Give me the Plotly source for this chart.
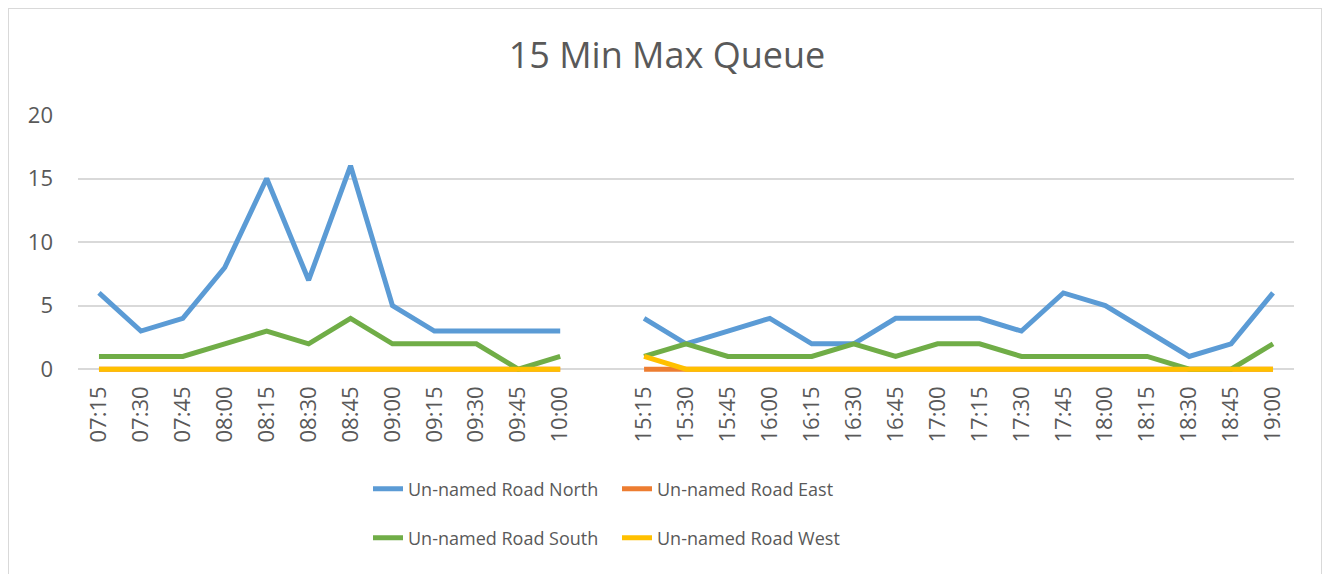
import plotly.graph_objects as go

times = ["07:15", "07:30", "07:45", "08:00", "08:15", "08:30", "08:45", "09:00",
         "09:15", "09:30", "09:45", "10:00", " ",
         "15:15", "15:30", "15:45", "16:00", "16:15", "16:30", "16:45", "17:00",
         "17:15", "17:30", "17:45", "18:00", "18:15", "18:30", "18:45", "19:00"]

north = [6, 3, 4, 8, 15, 7, 16, 5, 3, 3, 3, 3, None,
         4, 2, 3, 4, 2, 2, 4, 4, 4, 3, 6, 5, 3, 1, 2, 6]
east = [0, 0, 0, 0, 0, 0, 0, 0, 0, 0, 0, 0, None,
        0, 0, 0, 0, 0, 0, 0, 0, 0, 0, 0, 0, 0, 0, 0, 0]
south = [1, 1, 1, 2, 3, 2, 4, 2, 2, 2, 0, 1, None,
         1, 2, 1, 1, 1, 2, 1, 2, 2, 1, 1, 1, 1, 0, 0, 2]
west = [0, 0, 0, 0, 0, 0, 0, 0, 0, 0, 0, 0, None,
        1, 0, 0, 0, 0, 0, 0, 0, 0, 0, 0, 0, 0, 0, 0, 0]

series = [
    ("Un-named Road North", north, "#5B9BD5", "legend"),
    ("Un-named Road East", east, "#ED7D31", "legend"),
    ("Un-named Road South", south, "#70AD47", "legend2"),
    ("Un-named Road West", west, "#FFC000", "legend2"),
]

TXT = "#595959"
FONT = "Open Sans"
OFF = 8  # page body margin
W, H = 1330 - OFF, 574 - OFF
Y_MIN = -0.3  # small headroom so the zero lines are not clipped
PX_PER_UNIT = 254 / 20
ML, MR, MT = 78 - OFF, 36, 115 - OFF
PH = 254 + (-Y_MIN) * PX_PER_UNIT
MB = H - MT - PH

fig = go.Figure()
for name, vals, color, lg in series:
    fig.add_trace(go.Scatter(
        x=times, y=vals, name=name, mode="lines",
        line=dict(color=color, width=5),
        connectgaps=False, legend=lg,
    ))

pw = W - ML - MR
fig.add_shape(type="rect", xref="paper", yref="paper",
              x0=(7 - OFF + 1 - ML) / pw, x1=(1322 - OFF - ML) / pw,
              y0=-(H + 20 - MT - PH) / PH, y1=1 + MT / PH,
              line=dict(color="#D9D9D9", width=2), layer="below")

leg_common = dict(orientation="h", xref="container", yref="container",
                  xanchor="left", yanchor="middle", entrywidth=204,
                  font=dict(family=FONT, size=18, color=TXT),
                  bgcolor="rgba(0,0,0,0)", tracegroupgap=0)

fig.update_layout(
    width=W, height=H,
    margin=dict(l=ML, r=MR, t=MT, b=MB),
    paper_bgcolor="white", plot_bgcolor="white",
    font=dict(family=FONT, color=TXT),
    title=dict(text="15 Min Max Queue", x=(667 - OFF) / W, xref="container", xanchor="center",
               y=1 - (55 - OFF) / H, yref="container", yanchor="middle",
               font=dict(family=FONT, size=36, color=TXT)),
    legend=dict(x=(368 - OFF) / W, y=1 - (489 - OFF) / H, **leg_common),
    legend2=dict(x=(368 - OFF) / W, y=1 - (538 - OFF) / H, **leg_common),
    xaxis=dict(type="category", range=[-0.5, len(times) - 0.5], tickangle=-90,
               showgrid=False, zeroline=False, showline=False, ticks="",
               ticklabelstandoff=8,
               tickfont=dict(family=FONT, size=22, color=TXT)),
    yaxis=dict(range=[Y_MIN, 20], tickvals=[0, 5, 10, 15, 20], showgrid=True,
               gridcolor="#D9D9D9", gridwidth=2, zeroline=False, showline=False,
               ticks="", ticklabelstandoff=24,
               tickfont=dict(family=FONT, size=22, color=TXT)),
)

fig.write_html("out.html")
